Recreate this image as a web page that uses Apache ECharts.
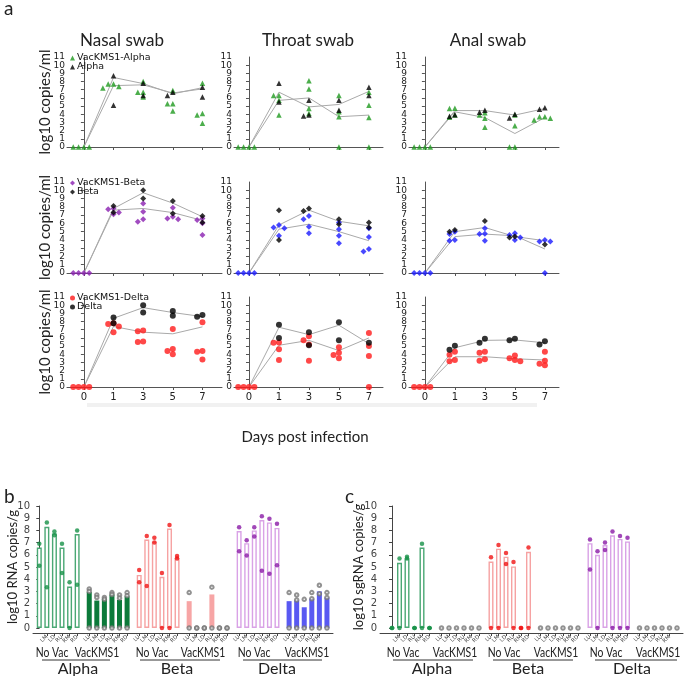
<!DOCTYPE html>
<html><head><meta charset="utf-8">
<script src="https://cdn.jsdelivr.net/npm/echarts@6/dist/echarts.min.js"></script>
<style>html,body{margin:0;padding:0;background:#fff}#c{width:685px;height:676px}</style>
</head><body><div id="c"></div>
<script>
// ---------------- Panel a data ----------------
const dayLabels = ['0','1','3','5','7'];
// each inner array: values at days 0,1,3,5,7
const nasalAlphaVac = [[0,0,0,0],[7.7,7.2,7.7,7.4],[8.0,6.7,6.7,6.1],[6.9,5.3,5.3,4.4],[7.8,4.1,3.9,2.9]];
const nasalAlphaCtl = [[],[8.7,5.1],[7.8,6.3],[6.3,6.7],[7.3,6.1]];
const nasalAlphaVacLine = [0,7.5,7.6,6.6,7.1];
const nasalAlphaCtlLine = [0,8.5,7.75,6.5,7.25];

const throatAlphaVac = [[0,0,0,0],[6.3,5.7,3.9,6.3],[8.1,7.1,4.7,4.1],[6.3,4.3,3.7,0],[6.7,5.1,3.6,0]];
const throatAlphaCtl = [[],[7.8,5.5],[5.7,3.9,3.8],[5.7,4.5],[7.3,6.3]];
const throatAlphaVacLine = [0,5.7,6.0,3.7,3.9];
const throatAlphaCtlLine = [0,6.7,4.9,5.2,6.8];

const analAlphaVac = [[0,0,0,0],[4.7,4.75,3.65,3.9],[4.2,3.9,3.5,2.4],[3.9,2.6,0,0],[3.7,3.3,3.7,3.5]];
const analAlphaCtl = [[],[3.95,3.75],[4.5,4.25],[3.55,4.0],[4.6,4.8]];
const analAlphaVacLine = [0,4.3,3.6,1.65,3.6];
const analAlphaCtlLine = [0,4.45,4.45,3.9,4.7];

const nasalBetaVac = [[0,0,0,0],[7.7,7.8,7.1,7.3],[8.4,7.4,6.2,6.5],[6.8,7.9,6.5,6.6],[6.4,6.0,4.6,6.6]];
const nasalBetaCtl = [[],[8.1,7.3],[10.0,9.0],[8.7,7.2],[6.9,6.1]];
const nasalBetaVacLine = [0,7.6,7.8,7.3,6.35];
const nasalBetaCtlLine = [0,7.8,9.7,8.45,6.8];

const throatBetaVac = [[0,0,0,0],[5.5,5.4,4.5,5.8],[6.5,6.9,5.6,4.8],[6.1,5.3,4.5,3.6],[5.4,4.35,2.6,2.9]];
const throatBetaCtl = [[],[7.6,4.0],[7.5,7.8],[5.9,6.5],[6.1,5.5]];
const throatBetaVacLine = [0,5.3,5.9,5.0,3.9];
const throatBetaCtlLine = [0,5.8,7.6,6.25,5.7];

const analBetaVac = [[0,0,0,0],[5.0,4.7,3.9,4.0],[4.75,5.4,4.7,3.9],[4.6,4.8,4.0,4.3],[3.8,3.8,4.0,0]];
const analBetaCtl = [[],[5.0,5.2],[6.3],[4.3,4.4],[3.45]];
const analBetaVacLine = [0,4.4,4.7,4.5,2.9];
const analBetaCtlLine = [0,5.0,5.5,4.4,3.9];

const nasalDeltaVac = [[0,0,0,0],[7.7,7.4,6.7,7.8],[6.9,6.8,5.5,5.55],[4.65,7.1,4.0,4.4],[4.4,7.9,4.3,3.35]];
const nasalDeltaCtl = [[],[8.5,7.8],[10.0,9.1],[8.7,9.3],[8.6,8.8]];
const nasalDeltaVacLine = [0,7.4,6.7,6.5,7.35];
const nasalDeltaCtlLine = [0,8.4,9.7,9.1,8.6];

const throatDeltaVac = [[0,0,0,0],[5.4,5.45,4.6,3.3],[5.7,6.2,5.2,3.2],[4.2,4.85,3.5,3.9],[6.6,5.0,3.8,0]];
const throatDeltaCtl = [[],[7.6,6.0],[6.7,5.1],[7.9,5.7],[5.4]];
const throatDeltaVacLine = [0,5.1,5.7,4.45,6.0];
const throatDeltaCtlLine = [0,7.3,6.4,7.55,5.3];

const analDeltaVac = [[0,0,0,0],[4.3,3.95,3.15,3.3],[4.3,4.2,3.2,3.4],[3.5,3.85,3.15,3.3],[3.2,4.3,2.65,2.85]];
const analDeltaCtl = [[],[4.55,5.05],[5.4,5.9],[5.7,5.9],[5.2,5.6]];
const analDeltaVacLine = [0,3.7,3.7,3.45,3.3];
const analDeltaCtlLine = [0,4.8,5.7,5.75,5.4];

// ---------------- Panel b / c data ----------------
const tissues = ['LU','LM','LD','RU','RM','RD'];
const rnaAlphaNoVac = [6.6, 8.3, 7.75, 6.6, 3.4, 7.7];
const rnaAlphaNoVacPts = [[6.9,5.1],[8.65,3.35],[7.9,7.6],[6.9,4.5],[3.75,0],[8.0,3.55]];
const rnaAlphaVac = [2.95, 2.25, 2.4, 2.75, 2.3, 2.6];
const rnaAlphaVacPts = [[3.2,3.0,0],[2.7,2.5,0],[2.5,2.35,0],[2.9,2.75,0],[2.7,2.45,0],[2.9,2.65,0]];
const rnaBetaNoVac = [4.35, 7.25, 7.1, 4.2, 8.15, 5.75];
const rnaBetaNoVacPts = [[4.75,3.75],[7.55,3.45],[7.4,7.0],[4.5,0],[8.45,0],[5.9,5.7]];
const rnaBetaVac = [2.2, 0, 0, 2.75, 0, 0];
const rnaBetaVacPts = [[2.9,0],[0,0],[0,0],[3.35,0],[0,0],[0,0]];
const rnaDeltaNoVac = [7.95, 6.95, 8.0, 8.85, 8.65, 8.2];
const rnaDeltaNoVacPts = [[8.25,6.3],[7.2,5.95],[8.25,7.5],[9.15,4.7],[8.95,4.45],[8.55,5.15]];
const rnaDeltaVac = [2.2, 2.25, 1.7, 2.4, 3.0, 2.5];
const rnaDeltaVacPts = [[2.9,0],[2.7,2.3,0],[2.35,0],[2.9,2.4,0],[3.5,2.8,0],[2.9,2.5,0]];

const sgAlphaNoVac = [0, 5.35, 5.7, 0, 6.6, 0];
const sgAlphaNoVacPts = [[0,0],[5.7,0],[5.85,5.7],[0,0],[6.9,0],[0,0]];
const sgAlphaVac = [0,0,0,0,0,0];
const sgAlphaVacPts = [[0],[0],[0],[0],[0],[0]];
const sgBetaNoVac = [5.45, 6.5, 5.85, 5.05, 0, 6.25];
const sgBetaNoVacPts = [[5.8,0],[6.8,0],[6.15,5.25],[5.4,0],[0,0],[6.6,0]];
const sgBetaVac = [0,0,0,0,0,0];
const sgBetaVacPts = [[0],[0],[0],[0],[0],[0]];
const sgDeltaNoVac = [6.95, 6.0, 6.8, 7.6, 7.3, 7.1];
const sgDeltaNoVacPts = [[7.25,4.8],[6.3,0],[7.0,6.4],[7.9,0],[7.55,0],[7.4,0]];
const sgDeltaVac = [0,0,0,0,0,0];
const sgDeltaVacPts = [[0],[0],[0],[0],[0],[0]];

// ---------------- build ----------------
const chart = echarts.init(document.getElementById('c'));
const TF = 'DejaVu Sans';
const LF = 'Lato';

const cols = [{left:67,width:155,min:-0.57,max:4.66},{left:234,width:149,min:-0.5,max:4.47},{left:409,width:150,min:-0.53,max:4.47}];
const rows = [{top:57,height:90},{top:182,height:91},{top:297,height:90}];

const panels = [
  [[nasalAlphaVac,nasalAlphaCtl,nasalAlphaVacLine,nasalAlphaCtlLine],[throatAlphaVac,throatAlphaCtl,throatAlphaVacLine,throatAlphaCtlLine],[analAlphaVac,analAlphaCtl,analAlphaVacLine,analAlphaCtlLine]],
  [[nasalBetaVac,nasalBetaCtl,nasalBetaVacLine,nasalBetaCtlLine],[throatBetaVac,throatBetaCtl,throatBetaVacLine,throatBetaCtlLine],[analBetaVac,analBetaCtl,analBetaVacLine,analBetaCtlLine]],
  [[nasalDeltaVac,nasalDeltaCtl,nasalDeltaVacLine,nasalDeltaCtlLine],[throatDeltaVac,throatDeltaCtl,throatDeltaVacLine,throatDeltaCtlLine],[analDeltaVac,analDeltaCtl,analDeltaVacLine,analDeltaCtlLine]]
];
const rowStyle = [
  {sym:'triangle', size:5.5, colors:['#1f9a1f','#1f9a1f','#1f9a1f'], names:['VacKMS1-Alpha','Alpha']},
  {sym:'diamond', size:6, colors:['#8a1fb0','#1a1aff','#1a1aff'], names:['VacKMS1-Beta','Beta']},
  {sym:'circle', size:6, colors:['#ff1a1a','#ff1a1a','#ff1a1a'], names:['VacKMS1-Delta','Delta']}
];

function swarm(groups, step, thr){
  const out=[];
  groups.forEach((vals,d)=>{
    const placed=[];
    vals.slice().sort((a,b)=>b-a).forEach(v=>{
      for(const k of [0,-1,1,-2,2,-3,3]){
        if(!placed.some(p=>p.k===k && Math.abs(p.v-v)<thr)){placed.push({k,v});out.push([d+k*step,v]);break;}
      }
    });
  });
  return out;
}

const grid=[], xAxis=[], yAxis=[], series=[], legend=[];
const axisCol='#555';
rows.forEach((r,ri)=>{
  cols.forEach((c,ci)=>{
    const gi=grid.length;
    grid.push({left:c.left, top:r.top, width:c.width, height:r.height, outerBoundsMode:'none', containLabel:false});
    xAxis.push({gridIndex:gi, type:'value', min:c.min, max:c.max,
      axisLine:{show:true, onZero:false, lineStyle:{color:axisCol,width:1}},
      axisTick:{show:true, length:3, customValues:[0,1,2,3,4], lineStyle:{color:axisCol}},
      axisLabel:{show:ri===2, customValues:[0,1,2,3,4], formatter:v=>dayLabels[Math.round(v)], fontFamily:TF, fontSize:10, color:'#222', margin:5, hideOverlap:false},
      splitLine:{show:false}});
    const yi=yAxis.length;
    // even-valued labels + axis line/ticks
    yAxis.push({gridIndex:gi, type:'value', min:0, max:11, interval:1,
      name: ci===0 ? 'log10 copies/ml' : '', nameLocation:'middle', nameGap:14, nameRotate:90, nameMoveOverlap:false,
      nameTextStyle:{fontFamily:LF, fontSize:15, color:'#222'},
      axisLine:{show:true, lineStyle:{color:axisCol,width:1}},
      axisTick:{show:true, length:3, lineStyle:{color:axisCol}},
      axisLabel:{fontFamily:TF, fontSize:9, color:'#222', margin:2, formatter:v=>(Math.round(v)%2===0?String(Math.round(v)):''), showMinLabel:true, showMaxLabel:false, hideOverlap:false},
      splitLine:{show:false}});
    // odd-valued labels only
    yAxis.push({gridIndex:gi, type:'value', min:0, max:11, interval:1, position:'left',
      axisLine:{show:false}, axisTick:{show:false},
      axisLabel:{fontFamily:TF, fontSize:9, color:'#222', margin:2, formatter:v=>(Math.round(v)%2===1?String(Math.round(v)):''), showMinLabel:false, showMaxLabel:true, hideOverlap:false},
      splitLine:{show:false}});
    const [vac,ctl,vl,cl]=panels[ri][ci];
    const st=rowStyle[ri];
    [vl,cl].forEach((ln,k)=>series.push({type:'line', name:'mean'+k, xAxisIndex:gi, yAxisIndex:yi, data:ln.map((v,i)=>[i,v]), symbol:'none', silent:true, lineStyle:{color:'#a9a9a9',width:1}, z:1}));
    series.push({type:'scatter', name:st.names[0], xAxisIndex:gi, yAxisIndex:yi, data:swarm(vac,0.18,0.55), symbol:st.sym, symbolSize:st.size, itemStyle:{color:st.colors[ci]}, z:3});
    series.push({type:'scatter', name:st.names[1], xAxisIndex:gi, yAxisIndex:yi, data:swarm(ctl,0.18,0.55), symbol:st.sym, symbolSize:st.size, itemStyle:{color:'#000'}, z:4});
  });
  legend.push({orient:'vertical', left:70, top:r.top-4, padding:0, itemGap:-1, itemWidth:5, itemHeight:5,
    textStyle:{fontFamily:TF, fontSize:9.5, color:'#111', padding:[0,0,0,-3]}, data:rowStyle[ri].names, selectedMode:false});
});

// ---------------- b and c ----------------
const GAP=6.6;
const pos=(g,i)=>g*GAP+i;
const allPos=[]; for(let g=0;g<6;g++) for(let i=0;i<6;i++) allPos.push(pos(g,i));
const posLabel={}; for(let g=0;g<6;g++) for(let i=0;i<6;i++) posLabel[pos(g,i).toFixed(2)]=tissues[i];

const barPanels=[
  {left:33, width:300, min:-0.83, max:38.8, name:'log10 RNA copies/g', gap:14,
   groups:[[rnaAlphaNoVac,rnaAlphaNoVacPts],[rnaAlphaVac,rnaAlphaVacPts],[rnaBetaNoVac,rnaBetaNoVacPts],[rnaBetaVac,rnaBetaVacPts],[rnaDeltaNoVac,rnaDeltaNoVacPts],[rnaDeltaVac,rnaDeltaVacPts]]},
  {left:380, width:303, min:-1.6, max:38.8, name:'log10 sgRNA copies/g', gap:15,
   groups:[[sgAlphaNoVac,sgAlphaNoVacPts],[sgAlphaVac,sgAlphaVacPts],[sgBetaNoVac,sgBetaNoVacPts],[sgBetaVac,sgBetaVacPts],[sgDeltaNoVac,sgDeltaNoVacPts],[sgDeltaVac,sgDeltaVacPts]]}
];
const grpStyle=[
  {open:true, bar:'#4aa874', pt:'#169147'},
  {open:false, bar:'#0c7a3a', pt:'#777'},
  {open:true, bar:'#f6a2a2', pt:'#f01414'},
  {open:false, bar:'#f7a5a5', pt:'#777'},
  {open:true, bar:'#d9a2e6', pt:'#8a1aa6'},
  {open:false, bar:'#5959f2', pt:'#777'}
];
barPanels.forEach(bp=>{
  const gi=grid.length;
  const yi=yAxis.length;
  grid.push({left:bp.left, top:506, width:bp.width, height:122, outerBoundsMode:'none', containLabel:false});
  xAxis.push({gridIndex:gi, type:'value', min:bp.min, max:bp.max, offset:5,
    axisLine:{show:true, onZero:false, lineStyle:{color:'#444'}},
    axisTick:{show:true, length:3, customValues:allPos, lineStyle:{color:'#444'}},
    axisLabel:{show:true, customValues:allPos, formatter:v=>posLabel[(+v).toFixed(2)]||'', rotate:45, fontFamily:TF, fontSize:5.5, color:'#333', margin:3, hideOverlap:false},
    splitLine:{show:false}});
  yAxis.push({gridIndex:gi, type:'value', min:0, max:10, interval:1,
    name:bp.name, nameLocation:'middle', nameGap:bp.gap, nameRotate:90, nameMoveOverlap:false,
    nameTextStyle:{fontFamily:LF, fontSize:13, color:'#222'},
    axisLine:{show:true, lineStyle:{color:'#444'}},
    axisTick:{show:true, length:3, lineStyle:{color:'#444'}},
    axisLabel:{fontFamily:TF, fontSize:10, color:'#444', margin:3, showMinLabel:true, showMaxLabel:true, hideOverlap:false},
    splitLine:{show:false}});
  bp.groups.forEach(([bars,pts],g)=>{
    const s=grpStyle[g];
    series.push({type:'bar', xAxisIndex:gi, yAxisIndex:yi, barWidth:5, barGap:'-100%', data:bars.map((v,i)=>[pos(g,i),v]),
      itemStyle: s.open ? {color:'#fff', borderColor:s.bar, borderWidth:1.4} : {color:s.bar}, z:2});
    const pd=[]; pts.forEach((arr,i)=>arr.forEach(v=>pd.push([pos(g,i),v])));
    series.push({type:'scatter', xAxisIndex:gi, yAxisIndex:yi, data:pd,
      symbol: s.open ? 'circle' : 'emptyCircle', symbolSize: s.open?4.5:3.5,
      itemStyle: {color:s.pt, borderWidth: s.open?0:0.8}, z:4});
  });
});

// ---------------- annotations ----------------
const T=(x,y,text,size,align,sx)=>({type:'text', x, y, scaleX:sx||1, style:{text, font:`${size}px ${LF}`, fill:'#222', align:align||'center', verticalAlign:'middle'}});
const L=(x1,x2,y)=>({type:'line', shape:{x1,y1:y,x2,y2:y}, style:{stroke:'#333', lineWidth:1}});
const S=0.8;
const graphic=[
  T(4,9,'a',19,'left'), T(4,497,'b',19,'left'), T(345,497,'c',19,'left'),
  T(122,41,'Nasal swab',17), T(308,41,'Throat swab',17), T(488,41,'Anal swab',17),
  {type:'rect', shape:{x:87,y:403,width:450,height:4}, style:{fill:'#f1f1f1'}},
  T(305,437,'Days post infection',15),
  // panel b group labels
  T(52,653,'No Vac',13,'center',S), T(97,653,'VacKMS1',13,'center',S), L(42,110,660), T(78,669,'Alpha',16),
  T(152,653,'No Vac',13,'center',S), T(203,653,'VacKMS1',13,'center',S), L(140,220,660), T(177,669,'Beta',16),
  T(254,653,'No Vac',13,'center',S), T(307,653,'VacKMS1',13,'center',S), L(243,322,660), T(277,669,'Delta',16),
  // panel c
  T(403,653,'No Vac',13,'center',S), T(455,653,'VacKMS1',13,'center',S), L(393,473,660), T(432,669,'Alpha',16),
  T(504,653,'No Vac',13,'center',S), T(556,653,'VacKMS1',13,'center',S), L(493,573,660), T(528,669,'Beta',16),
  T(606,653,'No Vac',13,'center',S), T(658,653,'VacKMS1',13,'center',S), L(595,677,660), T(632,669,'Delta',16)
];

chart.setOption({animation:false, backgroundColor:'#fff', grid, xAxis, yAxis, series, legend, graphic});
</script></body></html>
